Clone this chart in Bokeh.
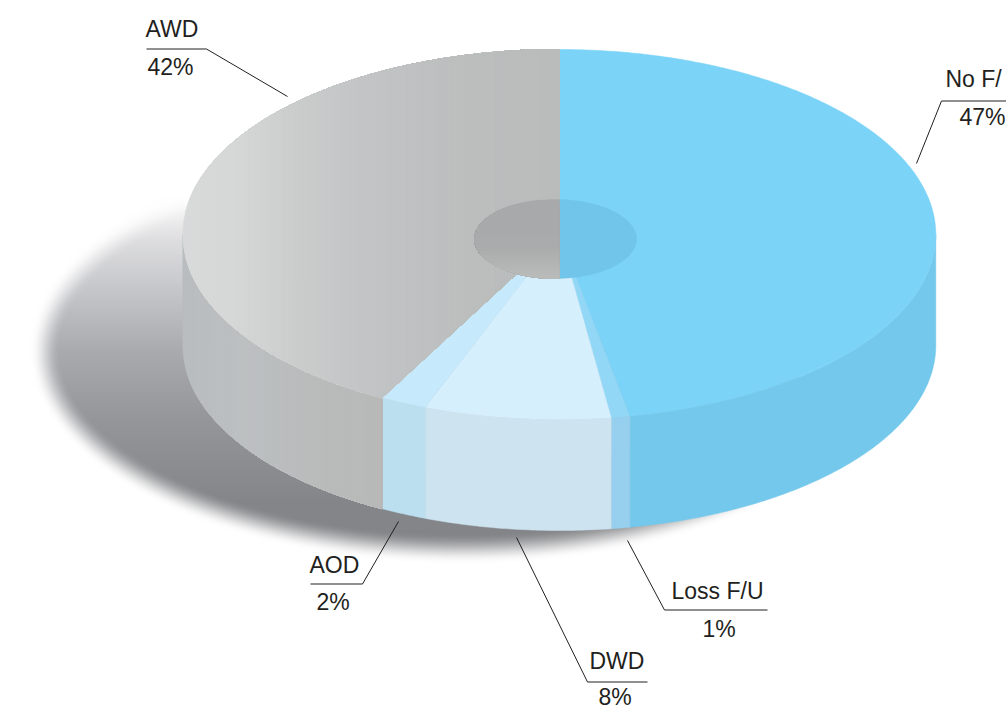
import numpy as np
from bokeh.plotting import figure
from bokeh.embed import file_html
from bokeh.resources import INLINE
from bokeh.core.properties import value

# ---- data ----
categories = ["No F/", "Loss F/U", "DWD", "AOD", "AWD"]
percent = [47.0, 0.8, 8.0, 2.0, 42.2]

# ---- styles ----
top_colors = ["#7bd3f7", "#92d7f6", "#d6effc", "#c6e9fb", None]
wall_colors = ["#74c8ec", "#96d0ee", "#cde3ef", "#bbdfef", None]
INK = "#231f20"

W, H = 1006, 708
def Y(s):
    return H - np.asarray(s, dtype=float)

CX, CY, RX, RY, DEPTH = 558.8, 234.0, 376.5, 185.0, 111.0
HX, HY, HRX, HRY = 555.0, 238.5, 81.0, 39.5
TXT_DY = 8

p = figure(width=W, height=H, x_range=(0, W), y_range=(0, H),
           output_backend="svg", toolbar_location=None, min_border=0,
           outline_line_color=None, background_fill_color="white", border_fill_color="white")
p.axis.visible = False
p.grid.visible = False


def hex2rgb(h):
    return np.array([int(h[i:i + 2], 16) for i in (1, 3, 5)], dtype=float)


def ramp(pos, stops):
    xs = [s[0] for s in stops]
    rgb = np.array([hex2rgb(s[1]) for s in stops])
    return np.stack([np.interp(pos, xs, rgb[:, i]) for i in range(3)], axis=-1)


def to_hex(c):
    return "#%02x%02x%02x" % tuple(int(round(v)) for v in c)


def clip(poly, axis, limit):
    """keep the part of a polygon where coord[axis] >= limit"""
    out = []
    n = len(poly)
    for i in range(n):
        a, b = poly[i], poly[(i + 1) % n]
        ina, inb = a[axis] >= limit, b[axis] >= limit
        if ina:
            out.append(a)
        if ina != inb:
            t = (limit - a[axis]) / (b[axis] - a[axis])
            out.append((a[0] + t * (b[0] - a[0]), a[1] + t * (b[1] - a[1])))
    return out


# ---- shadow: soft-edged ellipse, darker towards the front ----
sx0, sx1, sy0, sy1 = 0, 800, 170, 610
xx, yy = np.meshgrid(np.arange(sx0, sx1) + .5, np.arange(sy0, sy1) + .5)
SX, SY, SRX, SRY = 462.0, 350.0, 432.0, 213.0
ux, uy = (xx - SX) / SRX, (yy - SY) / SRY
e = np.sqrt(ux ** 2 + uy ** 2) + 1e-6
grad = np.sqrt((ux / SRX) ** 2 + (uy / SRY) ** 2) / e
dist = (1.0 - e) / grad
edge = np.clip(dist / 30.0, 0, 1)
edge = edge * edge * (3 - 2 * edge)
shade = ramp(yy, [(195, "#ffffff"), (240, "#dedee0"), (300, "#c1c2c6"), (350, "#aaabaf"),
                  (420, "#95969a"), (500, "#858689"), (560, "#838487")])
rgb = 255 + (shade - 255) * edge[..., None]
img = np.zeros(xx.shape, dtype=np.uint32)
view = img.view(dtype=np.uint8).reshape(xx.shape + (4,))
view[..., :3] = rgb.astype(np.uint8)
view[..., 3] = 255
p.image_rgba(image=[img[::-1]], x=[sx0], y=[float(Y(sy1))], dw=[sx1 - sx0], dh=[sy1 - sy0])

# ---- slice angles, clockwise from twelve o'clock ----
edges = np.cumsum([0] + percent) / sum(percent) * 2 * np.pi


def arc(t0, t1, dy=0.0):
    t = np.linspace(t0, t1, max(2, int(abs(t1 - t0) * 120)))
    return CX + RX * np.sin(t), CY + dy - RY * np.cos(t)


# ---- walls ----
wx, wy, wc = [], [], []
for i in range(len(percent)):
    t0, t1 = max(edges[i], np.pi / 2), min(edges[i + 1], 3 * np.pi / 2)
    if t0 >= t1:
        continue
    ax, ay = arc(t0, t1)
    bx, by = arc(t1, t0, DEPTH)
    poly = list(zip(np.r_[ax, bx], np.r_[ay, by]))
    if wall_colors[i]:
        wx.append([x for x, _ in poly]); wy.append(Y([y for _, y in poly]).tolist()); wc.append(wall_colors[i])
    else:
        lo, hi = min(x for x, _ in poly), max(x for x, _ in poly)
        for xs in np.arange(lo, hi, 3.0):
            c = clip(poly, 0, xs)
            if len(c) > 2:
                wx.append([q[0] for q in c]); wy.append(Y([q[1] for q in c]).tolist())
                wc.append(to_hex(ramp(xs, [(183, "#b9bdbf"), (240, "#bcc0c1"), (300, "#babcbc"), (384, "#b8b9b8")])))
p.patches(wx, wy, fill_color=wc, line_color=wc, line_width=0.5)

# ---- tops ----
tx, ty, tc = [], [], []
for i in range(len(percent)):
    ax, ay = arc(edges[i], edges[i + 1])
    poly = [(CX, CY)] + list(zip(ax, ay))
    if top_colors[i]:
        tx.append([x for x, _ in poly]); ty.append(Y([y for _, y in poly]).tolist()); tc.append(top_colors[i])
    else:
        lo, hi = min(x for x, _ in poly), max(x for x, _ in poly)
        for xs in np.arange(lo, hi, 3.0):
            c = clip(poly, 0, xs)
            if len(c) > 2:
                tx.append([q[0] for q in c]); ty.append(Y([q[1] for q in c]).tolist())
                tc.append(to_hex(ramp(xs, [(183, "#d9dbdb"), (240, "#d5d6d6"), (300, "#cacccc"),
                                           (380, "#c1c3c4"), (470, "#bcbebe"), (560, "#babcbb")])))
p.patches(tx, ty, fill_color=tc, line_color=tc, line_width=0.5)

# ---- centre well ----
t = np.linspace(0, 2 * np.pi, 240)
well = list(zip(HX + HRX * np.cos(t), HY + HRY * np.sin(t)))
split = CX
right = clip(well, 0, split)
left = [(-x, y) for x, y in clip([(-x, y) for x, y in well], 0, -split)]
hx, hy, hc = [[q[0] for q in right]], [Y([q[1] for q in right]).tolist()], ["#71c5ea"]
for ys in np.arange(198, 279, 2.0):
    c = clip(left, 1, ys)
    if len(c) > 2:
        hx.append([q[0] for q in c]); hy.append(Y([q[1] for q in c]).tolist())
        hc.append(to_hex(ramp(ys, [(198, "#a7a9aa"), (245, "#a9abac"), (278, "#bbbcbc")])))
p.patches(hx, hy, fill_color=hc, line_color=hc, line_width=0.3)

# ---- labels & leaders (screen layout) ----
LAY = {
    "No F/": dict(name=(945, 86), pct=(959, 124), lead=[(1006, 100.5), (941, 100.5), (916, 163)]),
    "Loss F/U": dict(name=(671, 598), pct=(702, 636), lead=[(767, 609.5), (664, 609.5), (627, 540)]),
    "DWD": dict(name=(589, 668), pct=(598, 704), lead=[(647, 681.5), (587, 681.5), (516, 537)]),
    "AOD": dict(name=(309, 572), pct=(316, 609), lead=[(310, 583.5), (362, 583.5), (398, 521)]),
    "AWD": dict(name=(145, 36), pct=(147, 74), lead=[(146, 48.5), (206, 48.5), (287, 96)]),
}
for cat, v in zip(categories, percent):
    L = LAY[cat]
    p.line([q[0] for q in L["lead"]], Y([q[1] for q in L["lead"]]).tolist(), line_color=INK, line_width=1)
    p.text([L["name"][0]], [float(Y(L["name"][1] - TXT_DY))], text=[cat], text_color=INK,
           text_font=value("Liberation Sans"), text_font_size="23px", text_baseline="alphabetic")
    p.text([L["pct"][0]], [float(Y(L["pct"][1] - TXT_DY))], text=[f"{round(v)}%"], text_color=INK,
           text_font=value("Liberation Sans"), text_font_size="23px", text_baseline="alphabetic")

open("out.html", "w").write(file_html(p, INLINE))
